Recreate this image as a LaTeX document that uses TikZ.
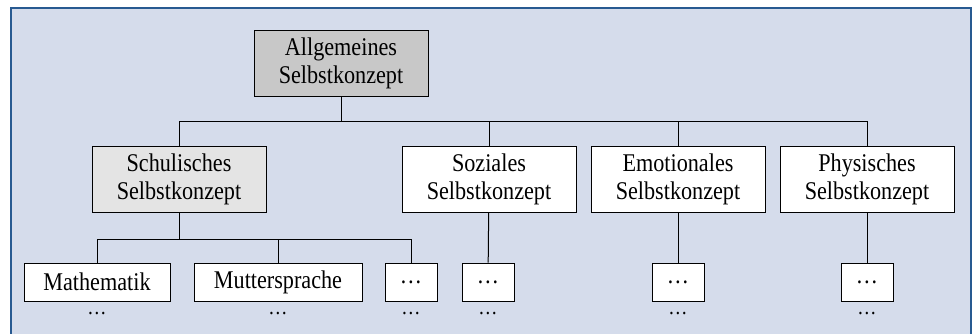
\documentclass[tikz,border=0pt]{standalone}
\usepackage{fontspec}
\setmainfont[FakeStretch=0.87]{Liberation Serif}
\usepackage{xcolor}
\usetikzlibrary{positioning}

\definecolor{panelbg}{RGB}{213,220,235}
\definecolor{panelframe}{RGB}{40,90,145}
\definecolor{topgray}{RGB}{200,200,200}
\definecolor{schulgray}{RGB}{228,228,228}

\tikzset{
	box/.style={draw, line width=1pt, fill=white, align=center, inner sep=0pt,
		font=\fontsize{25.5}{28}\selectfont},
	bigbox/.style={box, minimum width=174pt, minimum height=66pt},
	smallbox/.style={box, minimum height=38pt},
	dotsnode/.style={inner sep=0pt, font=\fontsize{22}{24}\selectfont},
	link/.style={line width=1pt}
}

\begin{document}
\begin{tikzpicture}[x=1pt, y=-1pt]
	\useasboundingbox (0,0) rectangle (977,333);
	\begin{scope}
		\clip (0,0) rectangle (977,333);
		\draw[panelframe, line width=1.5pt, fill=panelbg] (11,8) rectangle (971,345);
	\end{scope}

	% first level
	\node[bigbox, fill=topgray] (allg) at (341,63.5) {Allgemeines\\Selbstkonzept};

	% second level
	\node[bigbox, fill=schulgray] (schul) at (179,179) {Schulisches\\Selbstkonzept};
	\node[bigbox] (soz) at (489,179) {Soziales\\Selbstkonzept};
	\node[bigbox] (emo) at (678,179) {Emotionales\\Selbstkonzept};
	\node[bigbox] (phys) at (867,179) {Physisches\\Selbstkonzept};

	\coordinate (bar1) at (341,121);
	\draw[link] (allg) -- (bar1);
	\foreach \n in {schul, soz, emo, phys} {
		\draw[link] (\n.north) |- (bar1);
	}

	% third level
	\node[smallbox, minimum width=146pt] (mathe) at (97,282) {Mathematik};
	\node[smallbox, minimum width=168pt] (mutter) at (278,282) {Muttersprache};
	\node[smallbox, minimum width=52pt] (schulx) at (411,282) {\ldots};
	\node[smallbox, minimum width=52pt] (sozx) at (488,282) {\ldots};
	\node[smallbox, minimum width=52pt] (emox) at (678,282) {\ldots};
	\node[smallbox, minimum width=52pt] (physx) at (867,282) {\ldots};

	\coordinate (bar2) at (179,239);
	\draw[link] (schul) -- (bar2);
	\foreach \n in {mathe, mutter, schulx} {
		\draw[link] (\n.north) |- (bar2);
	}
	\draw[link] (soz) -- (sozx);
	\draw[link] (emo) -- (emox);
	\draw[link] (phys) -- (physx);

	% dots below
	\foreach \n in {mathe, mutter, schulx, sozx, emox, physx} {
		\node[dotsnode, below=11pt of \n] {\ldots};
	}
\end{tikzpicture}
\end{document}
